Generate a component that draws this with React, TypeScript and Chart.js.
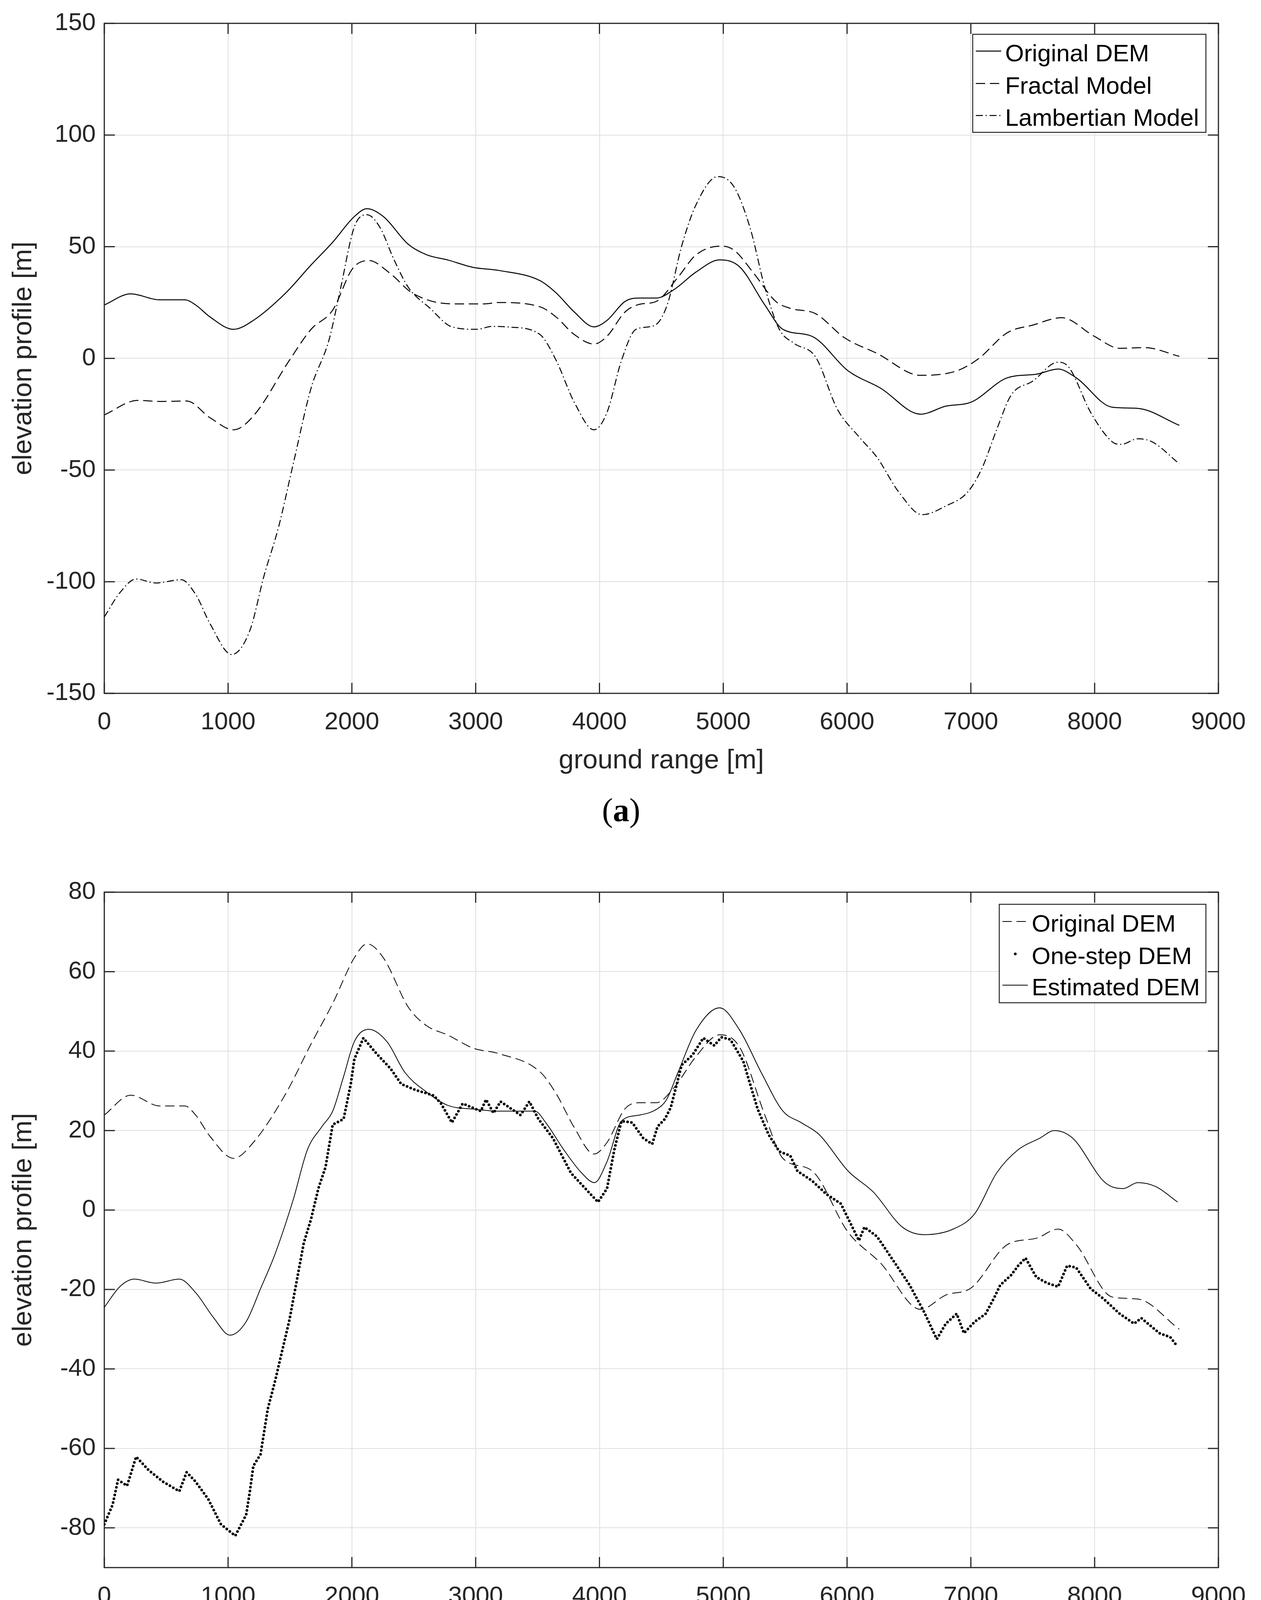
import React, { useEffect, useRef } from 'react';
import Chart from 'chart.js/auto';

// === Data (x in m, y in m) ===

// (a) and (b): original DEM profile
const ORIGINAL_X = [0, 213, 446, 650, 738, 855, 1044, 1204, 1466, 1670, 1845, 2020, 2122, 2254, 2457, 2603, 2778, 2983, 3184, 3519, 3650, 3796, 3956, 4061, 4207, 4324, 4459, 4605, 4781, 4971, 5132, 5336, 5482, 5716, 6009, 6272, 6594, 6798, 7003, 7295, 7529, 7705, 7851, 8143, 8348, 8684];
const ORIGINAL_Y = [23.9, 28.9, 26.2, 26.2, 23.9, 18.5, 13, 17, 29.3, 41.8, 52, 63.5, 67, 63.5, 51, 46.4, 44, 40.7, 39.4, 34.8, 29.3, 20.8, 14.1, 17, 25.5, 27, 27, 30.9, 38.7, 44.1, 41, 23.9, 13, 9.9, -5.6, -13.4, -25, -21.4, -19.6, -8.7, -7.1, -4.8, -8.7, -21.9, -22.4, -30];

// (a): fractal model
const FRACTAL_X = [0, 271, 446, 665, 855, 1044, 1204, 1495, 1670, 1845, 2006, 2137, 2312, 2487, 2808, 3070, 3184, 3519, 3650, 3796, 3956, 4061, 4207, 4324, 4459, 4634, 4781, 4985, 5088, 5249, 5424, 5541, 5746, 5980, 6243, 6594, 6886, 7061, 7295, 7500, 7734, 7997, 8202, 8406, 8684];
const FRACTAL_Y = [-25.3, -18.8, -19.3, -19.1, -26.6, -32, -25.8, -0.9, 13, 21.6, 40.2, 43.8, 37.9, 29.3, 24.4, 24.4, 25, 23.1, 18.5, 10.7, 6.4, 9.9, 20.8, 24.2, 25.5, 36.3, 46.4, 50.3, 48.4, 37.9, 25.5, 22.4, 20, 9.2, 2.2, -7.6, -5.6, -0.2, 11.5, 14.9, 18.2, 9.9, 4.5, 4.8, 0.9];

// (a): lambertian model
const LAMBERT_X = [0, 125, 257, 417, 621, 738, 855, 1029, 1175, 1291, 1408, 1525, 1670, 1816, 1904, 2020, 2122, 2224, 2341, 2457, 2632, 2808, 3012, 3128, 3274, 3519, 3650, 3796, 3956, 4061, 4178, 4295, 4440, 4547, 4664, 4781, 4956, 5088, 5219, 5336, 5453, 5570, 5746, 5921, 6096, 6243, 6418, 6608, 6798, 6974, 7091, 7208, 7325, 7500, 7705, 7792, 7968, 8143, 8216, 8348, 8465, 8684];
const LAMBERT_Y = [-115.8, -105, -98.8, -100.6, -99.1, -105.7, -118.9, -132.6, -122, -97.2, -75.5, -47.5, -13.4, 8.4, 30.1, 58.9, 64.3, 58.9, 44.1, 31.7, 22.4, 14.1, 13, 14.3, 14, 10.7, -0.9, -19.6, -32, -24.2, -0.9, 13, 14.6, 23.9, 50.3, 68.9, 81.4, 76.7, 58, 31.7, 13, 6.8, 0.6, -22.7, -35.1, -44.4, -59.9, -70, -66.1, -59.9, -49.1, -32, -16.5, -10.2, -1.7, -4, -24.2, -37.4, -38.5, -36, -37.4, -47.2];

// (b): one-step DEM
const ONESTEP_X = [0, 67, 111, 184, 257, 359, 475, 606, 665, 738, 840, 942, 1058, 1146, 1175, 1204, 1262, 1321, 1379, 1437, 1496, 1554, 1612, 1670, 1729, 1787, 1845, 1933, 1991, 2020, 2093, 2195, 2312, 2399, 2516, 2662, 2720, 2808, 2895, 3041, 3084, 3144, 3201, 3362, 3434, 3507, 3624, 3770, 3886, 3988, 4061, 4120, 4178, 4265, 4353, 4426, 4469, 4528, 4576, 4664, 4751, 4839, 4927, 4985, 5058, 5161, 5278, 5366, 5453, 5541, 5599, 5716, 5833, 5950, 6096, 6140, 6243, 6360, 6506, 6623, 6725, 6798, 6886, 6944, 7032, 7120, 7193, 7237, 7325, 7383, 7442, 7529, 7617, 7705, 7778, 7851, 7968, 8070, 8202, 8319, 8377, 8523, 8611, 8670];
const ONESTEP_Y = [-79.1, -74.2, -67.9, -69.4, -62.1, -65.5, -68.4, -70.8, -66, -68.4, -72.8, -79.1, -82, -76.7, -71, -64.4, -61.5, -50, -43.1, -35.4, -27.6, -17.9, -8.2, -2.3, 5.4, 10.8, 21.5, 22.9, 31.7, 38, 43.3, 39.5, 35.6, 31.7, 30.2, 28.8, 26.8, 22, 26.8, 24.9, 27.8, 24.4, 27.3, 23.9, 27.3, 22.9, 18.1, 9.3, 5.4, 2, 5.4, 15.2, 22.4, 22, 18.1, 16.6, 21, 22.9, 25.8, 36.5, 39, 43.3, 41.4, 43.5, 42.9, 37.5, 25.4, 19, 14.7, 13.7, 9.8, 7.4, 4, 1.6, -7.7, -4.3, -6.7, -12.1, -18.9, -25.7, -32.5, -28.6, -26.1, -31, -28.1, -26.1, -21.8, -18.9, -16.4, -14, -12.1, -16.9, -18.4, -19.3, -14, -14.5, -19.8, -22.3, -26.1, -28.6, -27.2, -31, -32, -34.4];

// (b): estimated DEM
const ESTIMATED_X = [0, 125, 242, 417, 606, 738, 883, 1015, 1146, 1262, 1379, 1525, 1641, 1758, 1845, 1933, 2020, 2137, 2283, 2429, 2603, 2778, 2983, 3187, 3478, 3566, 3711, 3857, 3959, 4061, 4178, 4324, 4469, 4542, 4634, 4781, 4971, 5132, 5307, 5482, 5629, 5775, 6009, 6213, 6447, 6623, 6857, 7032, 7208, 7383, 7558, 7675, 7822, 8085, 8231, 8348, 8494, 8670];
const ESTIMATED_Y = [-24.5, -19.3, -17.4, -18.4, -17.4, -20.8, -27.1, -31.5, -28.1, -19.8, -11.1, 2.5, 15.2, 21, 24.9, 33.6, 42.4, 45.5, 42.4, 34.6, 29.7, 26.3, 25.4, 24.9, 24.9, 22, 15.2, 9.3, 6.9, 12.2, 22.4, 23.9, 25.5, 27.8, 34.6, 45.3, 50.9, 45.3, 34.6, 24.9, 22, 19, 9.8, 4.5, -4.3, -6.2, -4.8, -0.9, 9.3, 15.2, 18.1, 20, 18.1, 6.9, 5.4, 6.9, 5.9, 2];

// === Style ===
const FONT = "'Liberation Sans', Arial, Helvetica, sans-serif";
const SERIF = "'Liberation Serif', 'Times New Roman', serif";
const INK = '#262626';
const GRID = '#dfdfdf';
const TICK_LEN = 27;

const toPoints = (xs: number[], ys: number[]) => xs.map((x, i) => ({ x, y: ys[i] }));

// MATLAB-ish frame: box, inward ticks on all sides, boxed legend
const framePlugin = {
  id: 'matlabFrame',
  afterDatasetsDraw(chart: any, _args: any, opts: any) {
    const { ctx, chartArea: a, scales } = chart;
    const xs = scales.x;
    const ys = scales.y;
    ctx.save();
    ctx.setLineDash([]);
    ctx.strokeStyle = INK;
    ctx.lineWidth = 3;
    ctx.beginPath();
    xs.ticks.forEach((t: any) => {
      const px = xs.getPixelForValue(t.value);
      ctx.moveTo(px, a.bottom);
      ctx.lineTo(px, a.bottom - TICK_LEN);
      ctx.moveTo(px, a.top);
      ctx.lineTo(px, a.top + TICK_LEN);
    });
    ys.ticks.forEach((t: any) => {
      const py = ys.getPixelForValue(t.value);
      ctx.moveTo(a.left, py);
      ctx.lineTo(a.left + TICK_LEN, py);
      ctx.moveTo(a.right, py);
      ctx.lineTo(a.right - TICK_LEN, py);
    });
    ctx.stroke();
    ctx.strokeRect(a.left, a.top, a.right - a.left, a.bottom - a.top);

    const lg = opts && opts.legend;
    if (lg) {
      const bx = a.right - lg.right - lg.width;
      const by = a.top + lg.top;
      ctx.fillStyle = '#ffffff';
      ctx.fillRect(bx, by, lg.width, lg.height);
      ctx.lineWidth = 2.5;
      ctx.strokeStyle = INK;
      ctx.strokeRect(bx, by, lg.width, lg.height);
      chart.data.datasets.forEach((ds: any, i: number) => {
        const y = by + lg.rows[i];
        ctx.strokeStyle = '#000';
        ctx.fillStyle = '#000';
        if (ds.dots) {
          ctx.beginPath();
          ctx.arc(bx + 41, y, 3.5, 0, Math.PI * 2);
          ctx.fill();
        } else {
          ctx.setLineDash(ds.borderDash || []);
          ctx.lineWidth = ds.borderWidth;
          ctx.beginPath();
          ctx.moveTo(bx + 8, y);
          ctx.lineTo(bx + 73, y);
          ctx.stroke();
          ctx.setLineDash([]);
        }
        ctx.font = `62px ${FONT}`;
        ctx.textAlign = 'left';
        ctx.textBaseline = 'alphabetic';
        ctx.fillText(ds.label, bx + 83, y + 26);
      });
    }
    ctx.restore();
  },
};

interface PanelProps {
  top: number;
  height: number;
  padTop: number;
  xAxisHeight: number;
  titlePadBottom: number;
  yMin: number;
  yMax: number;
  yStep: number;
  datasets: any[];
  legend: { right: number; top: number; width: number; height: number; rows: number[] };
}

const Panel: React.FC<PanelProps> = ({ top, height, padTop, xAxisHeight, titlePadBottom, yMin, yMax, yStep, datasets, legend }) => {
  const ref = useRef<HTMLCanvasElement>(null);

  useEffect(() => {
    if (!ref.current) return;
    const chart = new Chart(ref.current, {
      type: 'line',
      data: { datasets },
      plugins: [framePlugin],
      options: {
        responsive: false,
        animation: false,
        devicePixelRatio: 1,
        layout: { padding: { left: 0, right: 109, top: padTop, bottom: 0 } },
        elements: { point: { radius: 0 }, line: { fill: false } },
        plugins: {
          legend: { display: false },
          tooltip: { enabled: false },
          matlabFrame: { legend },
        } as any,
        scales: {
          x: {
            type: 'linear',
            min: 0,
            max: 9000,
            ticks: {
              stepSize: 1000,
              padding: 37,
              color: INK,
              maxRotation: 0,
              autoSkip: false,
              font: { family: FONT, size: 63 },
              callback: (v: any) => String(v),
            },
            grid: { color: GRID, lineWidth: 2, drawTicks: false },
            border: { display: false },
            title: {
              display: true,
              text: 'ground range [m]',
              color: INK,
              font: { family: FONT, size: 69 },
              padding: { top: 0, bottom: titlePadBottom },
            },
            afterFit: (s: any) => {
              s.height = xAxisHeight;
            },
          },
          y: {
            type: 'linear',
            min: yMin,
            max: yMax,
            ticks: {
              stepSize: yStep,
              padding: 22,
              color: INK,
              font: { family: FONT, size: 63 },
              callback: (v: any) => String(v),
            },
            afterBuildTicks: (s: any) => {
              s.ticks = s.ticks.filter((t: any) => t.value % yStep === 0);
            },
            grid: { color: GRID, lineWidth: 2, drawTicks: false },
            border: { display: false },
            title: {
              display: true,
              text: 'elevation profile [m]',
              color: INK,
              font: { family: FONT, size: 69 },
              padding: { top: 20, bottom: 0 },
            },
            afterFit: (s: any) => {
              s.width = 267;
            },
          },
        },
      } as any,
    });
    return () => chart.destroy();
  }, []);

  return (
    <canvas
      ref={ref}
      width={3228}
      height={height}
      style={{ position: 'absolute', left: 0, top, width: 3228, height }}
    />
  );
};

const Caption: React.FC<{ top: number; left: number; letter: string }> = ({ top, left, letter }) => (
  <div
    style={{
      position: 'absolute',
      top,
      left: left - 100,
      width: 200,
      textAlign: 'center',
      font: `84px/84px ${SERIF}`,
      color: '#000',
    }}
  >
    (<b>{letter}</b>)
  </div>
);

export default function App() {
  const datasetsA = [
    { label: 'Original DEM', data: toPoints(ORIGINAL_X, ORIGINAL_Y), borderColor: '#000', borderWidth: 2.5, cubicInterpolationMode: 'monotone' },
    { label: 'Fractal Model', data: toPoints(FRACTAL_X, FRACTAL_Y), borderColor: '#000', borderWidth: 2.5, borderDash: [24, 12], cubicInterpolationMode: 'monotone' },
    { label: 'Lambertian Model', data: toPoints(LAMBERT_X, LAMBERT_Y), borderColor: '#000', borderWidth: 2.5, borderDash: [18, 7, 3, 7], cubicInterpolationMode: 'monotone' },
  ];
  const datasetsB = [
    { label: 'Original DEM', data: toPoints(ORIGINAL_X, ORIGINAL_Y), borderColor: '#000', borderWidth: 2, borderDash: [24, 12], cubicInterpolationMode: 'monotone' },
    { label: 'One-step DEM', data: toPoints(ONESTEP_X, ONESTEP_Y), borderColor: '#000', borderWidth: 7, borderDash: [0, 10], borderCapStyle: 'round', borderJoinStyle: 'round', tension: 0, dots: true },
    { label: 'Estimated DEM', data: toPoints(ESTIMATED_X, ESTIMATED_Y), borderColor: '#000', borderWidth: 2, cubicInterpolationMode: 'monotone' },
  ];

  return (
    <div style={{ position: 'absolute', left: 0, top: 0, width: 3228, height: 4389, background: '#fff', overflow: 'hidden' }}>
      <Panel
        top={0}
        height={2000}
        padTop={50}
        xAxisHeight={225}
        titlePadBottom={10.6}
        yMin={-150}
        yMax={150}
        yStep={50}
        datasets={datasetsA}
        legend={{ right: 32, top: 28, width: 597, height: 251, rows: [43, 126, 208] }}
      />
      <Caption top={2032} left={1590} letter="a" />
      <Panel
        top={2000}
        height={2230}
        padTop={284}
        xAxisHeight={217}
        titlePadBottom={5.6}
        yMin={-90}
        yMax={80}
        yStep={20}
        datasets={datasetsB}
        legend={{ right: 32, top: 31, width: 529, height: 252, rows: [44, 127, 207] }}
      />
      <Caption top={4269} left={1585} letter="b" />
    </div>
  );
}
